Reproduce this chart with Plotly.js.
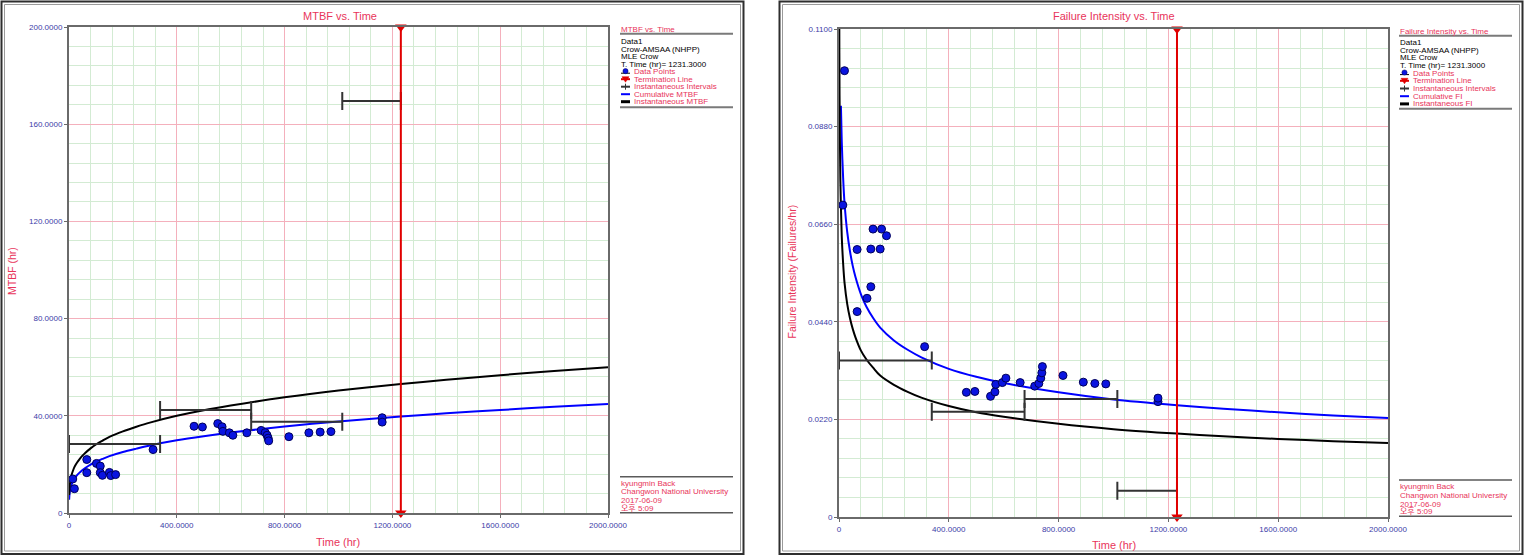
<!DOCTYPE html>
<html>
<head>
<meta charset="utf-8">
<script src="https://cdn.plot.ly/plotly-3.0.1.min.js"></script>
<style>
html,body{margin:0;padding:0;background:#fff;}
#chart{width:1524px;height:556px;}
</style>
</head>
<body>
<div id="chart"></div>
<script>
// ---------------- DATA ----------------
const terminationTime = 1231.3;
const failureTimes = [14, 20, 66, 66, 102, 116, 116, 124, 150, 155, 173, 312, 464, 495, 552, 568, 571, 595, 608, 660, 713, 728, 735, 739, 741, 816, 890, 932, 972, 1162, 1162];
const mtbfPoints = [14.0, 10.0, 22.0, 16.6, 20.4, 19.3, 16.6, 15.5, 16.7, 15.4, 15.8, 26.1, 35.7, 35.4, 36.8, 35.5, 33.6, 33.0, 32.0, 33.0, 34.0, 33.1, 32.0, 30.8, 29.7, 31.4, 33.0, 33.3, 33.5, 39.2, 37.4];
const fiPoints = [0.0703, 0.1006, 0.0463, 0.0603, 0.0493, 0.0519, 0.0604, 0.0649, 0.0604, 0.0649, 0.0634, 0.0384, 0.0281, 0.0283, 0.0272, 0.0282, 0.0299, 0.0303, 0.0313, 0.0303, 0.0295, 0.0301, 0.0313, 0.0325, 0.0339, 0.0319, 0.0304, 0.0301, 0.0300, 0.0260, 0.0268];

const curveTimes = [0.5, 2, 5, 10, 15, 20, 30, 40, 50, 60, 80, 100, 125, 150, 200, 250, 300, 400, 500, 600, 800, 1000, 1231.3, 1400, 1600, 1800, 2000];
const cumulativeMtbf = [5.5, 7.9, 9.9, 11.8, 13.1, 14.1, 15.6, 16.7, 17.7, 18.5, 19.9, 21.1, 22.3, 23.4, 25.1, 26.5, 27.8, 29.9, 31.6, 33.1, 35.6, 37.7, 39.7, 41.0, 42.4, 43.7, 44.9];
const instantaneousMtbf = [7.4, 10.5, 13.2, 15.8, 17.5, 18.9, 20.8, 22.3, 23.6, 24.7, 26.6, 28.2, 29.8, 31.3, 33.6, 35.5, 37.2, 40.0, 42.3, 44.2, 47.6, 50.4, 53.1, 54.8, 56.7, 58.4, 60.0];

const fiCurveTimes = [7, 10, 15, 20, 30, 40, 50, 60, 80, 100, 125, 150, 200, 250, 300, 400, 500, 600, 800, 1000, 1231.3, 1400, 1600, 1800, 2000];
const cumulativeFi = [0.0927, 0.0847, 0.0765, 0.0709, 0.0642, 0.0599, 0.0566, 0.0541, 0.0502, 0.0474, 0.0448, 0.0427, 0.0398, 0.0377, 0.0360, 0.0334, 0.0316, 0.0302, 0.0281, 0.0265, 0.0252, 0.0244, 0.0236, 0.0229, 0.0223];
const instFiTimes = [0.5, 1, 2, 5, 10, 15, 20, 30, 40, 50, 60, 80, 100, 125, 150, 200, 250, 300, 400, 500, 600, 800, 1000, 1231.3, 1400, 1600, 1800, 2000];
const instantaneousFi = [0.135, 0.114, 0.095, 0.0758, 0.0633, 0.0572, 0.0529, 0.0480, 0.0448, 0.0424, 0.0405, 0.0375, 0.0355, 0.0336, 0.0319, 0.0298, 0.0282, 0.0269, 0.0250, 0.0236, 0.0226, 0.0210, 0.0198, 0.0188, 0.0182, 0.0176, 0.0171, 0.0167];

const intervalStart = [0, 338, 676, 1014];
const intervalEnd = [338, 676, 1014, 1231.3];
const intervalMtbf = [28.4, 42.4, 37.6, 169.5];
const intervalFi = [0.0353, 0.0237, 0.0266, 0.0059];

const mtbfTickVals = [0, 40, 80, 120, 160, 200];
const mtbfTickText = ['0', '40.0000', '80.0000', '120.0000', '160.0000', '200.0000'];
const fiTickVals = [0, 0.022, 0.044, 0.066, 0.088, 0.11];
const fiTickText = ['0', '0.0220', '0.0440', '0.0660', '0.0880', '0.1100'];
const timeTickVals = [0, 400, 800, 1200, 1600, 2000];
const timeTickText = ['0', '400.0000', '800.0000', '1200.0000', '1600.0000', '2000.0000'];

const mtbfTitle = 'MTBF vs. Time';
const fiTitle = 'Failure Intensity vs. Time';
const infoLines = ['Data1', 'Crow-AMSAA (NHPP)', 'MLE Crow', 'T. Time (hr)= 1231.3000'];
const mtbfLegendItems = ['Data Points', 'Termination Line', 'Instantaneous Intervals', 'Cumulative MTBF', 'Instantaneous MTBF'];
const fiLegendItems = ['Data Points', 'Termination Line', 'Instantaneous Intervals', 'Cumulative FI', 'Instantaneous FI'];
const footerLines = ['kyungmin Back', 'Changwon National University', '2017-06-09', '오후 5:09'];

// ---------------- STYLE / LAYOUT HELPERS ----------------
const W = 1524, H = 556;
const px = x => x / W;
const py = y => 1 - y / H;
const FONT = 'Liberation Sans, Arial, Noto Sans CJK KR, sans-serif';
const PINK = '#e8345a';
const NAVY = '#3c3ca8';
const BLUE = '#0000ff';
const RED = '#e00000';
const DARK = '#333333';

const midpoints = intervalStart.map((s, i) => (s + intervalEnd[i]) / 2);
const halfWidths = intervalStart.map((s, i) => (intervalEnd[i] - s) / 2);

function dataTraces(xa, ya, pts, cumT, cumV, instT, instV, intV, yTop) {
  return [
    {x: cumT, y: cumV, xaxis: xa, yaxis: ya, mode: 'lines', line: {color: BLUE, width: 2, shape: 'spline', smoothing: 0.8}, hoverinfo: 'skip'},
    {x: instT, y: instV, xaxis: xa, yaxis: ya, mode: 'lines', line: {color: '#000', width: 2, shape: 'spline', smoothing: 0.8}, hoverinfo: 'skip'},
    {x: midpoints, y: intV, xaxis: xa, yaxis: ya, mode: 'markers',
     marker: {size: 1, color: 'rgba(0,0,0,0)'},
     error_x: {type: 'data', array: halfWidths, symmetric: true, color: DARK, thickness: 2, width: 9},
     hoverinfo: 'skip'},
    {x: failureTimes, y: pts, xaxis: xa, yaxis: ya, mode: 'markers',
     marker: {size: 8, color: '#0a14e0', line: {color: '#00005a', width: 1}}, hoverinfo: 'skip'},
    {x: [terminationTime, terminationTime], y: [0, yTop], xaxis: xa, yaxis: ya, mode: 'lines+markers',
     line: {color: RED, width: 2}, marker: {symbol: 'triangle-down', size: 10, color: RED}, cliponaxis: false, hoverinfo: 'skip'}
  ];
}

const traces = [].concat(
  dataTraces('x', 'y', mtbfPoints, curveTimes, cumulativeMtbf, curveTimes, instantaneousMtbf, intervalMtbf, 200),
  dataTraces('x2', 'y2', fiPoints, fiCurveTimes, cumulativeFi, instFiTimes, instantaneousFi, intervalFi, 0.11)
);

function axis(extra, minorDtick) {
  return Object.assign({
    showline: true, linecolor: '#6a6a6a', linewidth: 2, mirror: true,
    ticks: 'outside', ticklen: 3, tickcolor: '#6a6a6a', tickwidth: 1,
    tickfont: {family: FONT, size: 8, color: NAVY},
    showgrid: true, gridcolor: '#f4b0bc', gridwidth: 1,
    zeroline: false, tickmode: 'array', fixedrange: true,
    minor: {tickmode: 'linear', tick0: 0, dtick: minorDtick, showgrid: true, gridcolor: '#d3ebd3', gridwidth: 1, ticks: ''}
  }, extra);
}

const layout = {
  width: W, height: H,
  margin: {l: 0, r: 0, t: 0, b: 0},
  paper_bgcolor: '#fff', plot_bgcolor: '#fff',
  showlegend: false,
  xaxis: axis({domain: [px(69), px(608)], range: [0, 2000], tickvals: timeTickVals, ticktext: timeTickText, anchor: 'y'}, 80),
  yaxis: axis({domain: [py(513), py(27)], range: [0, 200], tickvals: mtbfTickVals, ticktext: mtbfTickText, anchor: 'x'}, 8),
  xaxis2: axis({domain: [px(839), px(1388)], range: [0, 2000], tickvals: timeTickVals, ticktext: timeTickText, anchor: 'y2'}, 80),
  yaxis2: axis({domain: [py(517), py(29)], range: [0, 0.11], tickvals: fiTickVals, ticktext: fiTickText, anchor: 'x2'}, 0.0044),
  shapes: [],
  annotations: []
};

function txt(text, x, y, opts) {
  layout.annotations.push(Object.assign({
    text: text, xref: 'paper', yref: 'paper', x: px(x), y: py(y),
    xanchor: 'left', yanchor: 'middle', showarrow: false,
    font: {family: FONT, size: 8, color: '#000'}
  }, opts || {}));
}
function hline(x0, x1, y, color, width) {
  layout.shapes.push({type: 'line', xref: 'paper', yref: 'paper', x0: px(x0), x1: px(x1), y0: py(y), y1: py(y), line: {color: color, width: width}});
}
function vline(x, y0, y1, color, width) {
  layout.shapes.push({type: 'line', xref: 'paper', yref: 'paper', x0: px(x), x1: px(x), y0: py(y0), y1: py(y1), line: {color: color, width: width}});
}
function rect(x0, y0, x1, y1, color, width) {
  layout.shapes.push({type: 'rect', xref: 'paper', yref: 'paper', x0: px(x0), x1: px(x1), y0: py(y1), y1: py(y0), line: {color: color, width: width}});
}

// panel frames
rect(1.5, 1.5, 743.5, 554, '#2e2e2e', 2);
rect(4.5, 4.5, 740.5, 551, '#9a9a9a', 1);
rect(779.5, 1.5, 1522.5, 554, '#2e2e2e', 2);
rect(782.5, 4.5, 1519.5, 551, '#9a9a9a', 1);

// titles
txt(mtbfTitle, 339.5, 15.5, {xanchor: 'center', font: {family: FONT, size: 11, color: PINK}});
txt(fiTitle, 1114, 15.5, {xanchor: 'center', font: {family: FONT, size: 11, color: PINK}});
txt('Time (hr)', 338, 541.5, {xanchor: 'center', font: {family: FONT, size: 11, color: PINK}});
txt('Time (hr)', 1114, 545, {xanchor: 'center', font: {family: FONT, size: 11, color: PINK}});
txt('MTBF (hr)', 12, 271, {xanchor: 'center', textangle: -90, font: {family: FONT, size: 10.5, color: PINK}});
txt('Failure Intensity (Failures/hr)', 791.5, 272, {xanchor: 'center', textangle: -90, font: {family: FONT, size: 10.5, color: PINK}});

function legendBox(x0, x1, headerY, rule1Y, firstY, step, rule2Y, header, items, footTop, footY, footBottom) {
  txt(header, x0 - 1, headerY, {font: {family: FONT, size: 8, color: PINK}});
  hline(x0, x1, rule1Y, '#7a7a7a', 2);
  let y = firstY;
  infoLines.forEach(l => { txt(l, x0 - 1, y); y += step; });
  const tx = x0 + 12;
  items.forEach((l, k) => {
    txt(l, tx, y, {font: {family: FONT, size: 8, color: PINK}});
    const sx0 = x0 + 1, sx1 = x0 + 10, cx = (sx0 + sx1) / 2;
    if (k === 0) {
      hline(sx0, sx1, y + 1.5, '#000', 1);
      layout.shapes.push({type: 'circle', xref: 'paper', yref: 'paper', x0: px(cx - 2.6), x1: px(cx + 2.6), y0: py(y + 2), y1: py(y - 3.2), fillcolor: '#0a14e0', line: {color: '#00005a', width: 0.5}});
    } else if (k === 1) {
      hline(sx0, sx1, y, RED, 2);
      layout.shapes.push({type: 'path', xref: 'paper', yref: 'paper',
        path: 'M' + px(cx - 3.5) + ',' + py(y - 2.5) + ' L' + px(cx + 3.5) + ',' + py(y - 2.5) + ' L' + px(cx) + ',' + py(y + 3) + ' Z',
        fillcolor: RED, line: {color: RED, width: 0.5}});
    } else if (k === 2) {
      hline(sx0, sx1, y, DARK, 2);
      vline(cx, y - 3, y + 3, DARK, 1);
    } else if (k === 3) {
      hline(sx0, sx1, y, BLUE, 2);
    } else {
      hline(sx0, sx1, y, '#000', 3);
    }
    y += step;
  });
  hline(x0, x1, rule2Y, '#7a7a7a', 2);
  hline(x0, x1, footTop, '#5a5a5a', 1.5);
  footerLines.forEach((l, k) => txt(l, x0 - 1, footY[k], {font: {family: FONT, size: 8, color: PINK}}));
  hline(x0, x1, footBottom, '#5a5a5a', 1.5);
}

legendBox(620, 733, 29.3, 33.7, 41.7, 7.5, 107.3, mtbfTitle, mtbfLegendItems, 476.7, [483.5, 491.7, 500, 508], 512.7);
legendBox(1399, 1512, 31.5, 35.7, 42.3, 7.7, 108.7, fiTitle, fiLegendItems, 480, [486.7, 495.5, 504, 511.7], 516.3);

Plotly.newPlot('chart', traces, layout, {staticPlot: true, displayModeBar: false});
</script>
</body>
</html>
